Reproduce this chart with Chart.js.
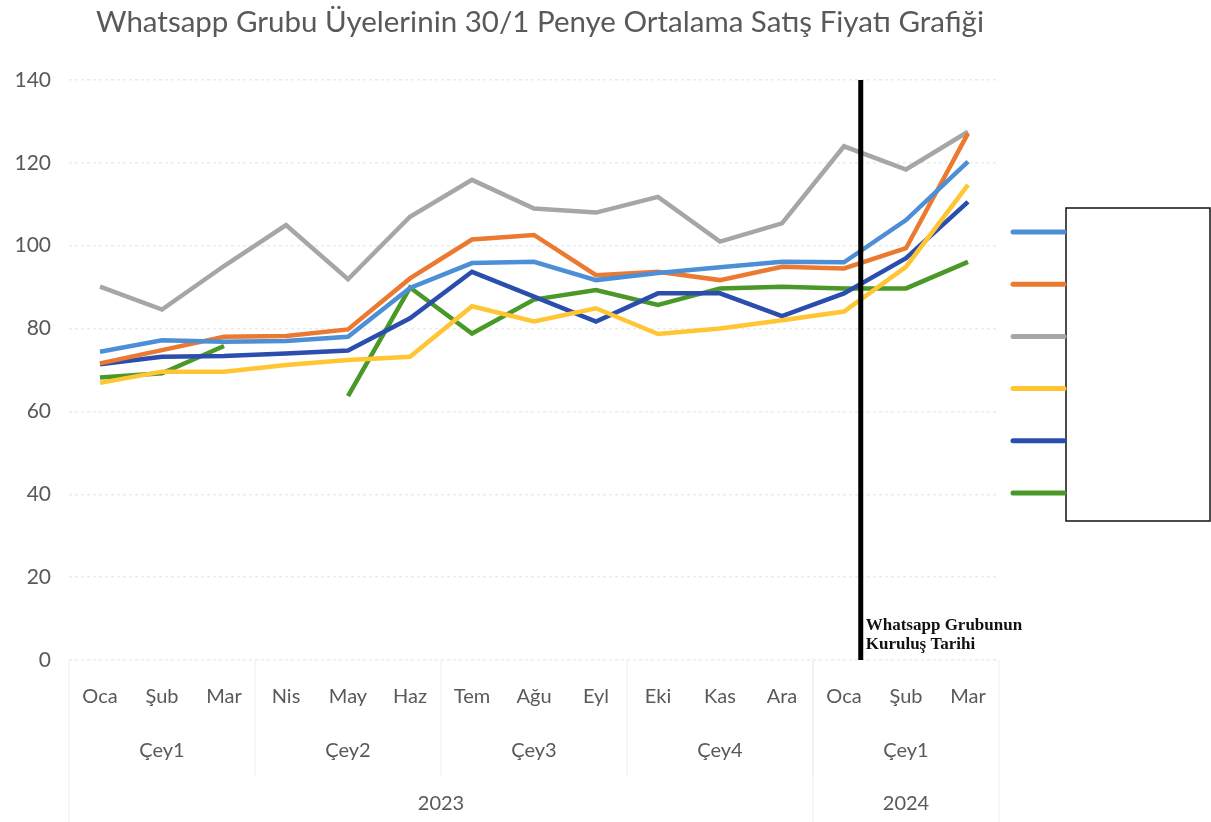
<!DOCTYPE html>
<html>
<head>
<meta charset="utf-8">
<script src="https://cdn.jsdelivr.net/npm/chart.js@4.4.1/dist/chart.umd.min.js"></script>
<style>
html,body{margin:0;padding:0;background:#fff;}
#wrap{width:1211px;height:822px;position:relative;}
</style>
</head>
<body>
<div id="wrap"><canvas id="c" width="1211" height="822"></canvas></div>
<script>
const titleText = "Whatsapp Grubu Üyelerinin 30/1 Penye Ortalama Satış Fiyatı Grafiği";
const months = ["Oca","Şub","Mar","Nis","May","Haz","Tem","Ağu","Eyl","Eki","Kas","Ara","Oca","Şub","Mar"];
const quarters = ["Çey1","Çey2","Çey3","Çey4","Çey1"];
const years = ["2023","2024"];
const monthsPerQuarter = 3;
const yearQuarterCounts = [4,1];
const yTicks = [0,20,40,60,80,100,120,140];

const seriesLightBlue = [74.4,77.2,76.8,77,78,89.8,95.8,96.1,91.7,93.4,94.8,96.1,96.0,106.2,120.3];
const seriesOrange    = [71.6,74.8,78,78.2,79.8,92.1,101.5,102.6,92.9,93.7,91.7,94.9,94.5,99.4,127.1];
const seriesGrey      = [90.1,84.6,95.1,105,91.9,107,115.9,109,108,111.8,101,105.4,124,118.4,127.5];
const seriesYellow    = [66.9,69.6,69.6,71.2,72.4,73.2,85.4,81.7,84.9,78.7,80,82,84.1,94.9,114.7];
const seriesDarkBlue  = [71.4,73.2,73.4,74,74.7,82.5,93.7,87.7,81.7,88.5,88.5,83,88.5,97,110.6];
const seriesGreen     = [68.2,69.2,75.8,null,63.7,89.9,78.8,87,89.3,85.7,89.7,90.1,89.7,89.7,96.1];

const foundingPosition = 12.27; // category index where the group was founded
const foundingLabel = ["Whatsapp Grubunun","Kuruluş Tarihi"];

const colors = ["#4C8FD6","#EB7A30","#A6A6A6","#FFC533","#2A4DAE","#4A9828"];
const seriesList = [seriesLightBlue,seriesOrange,seriesGrey,seriesYellow,seriesDarkBlue,seriesGreen];

const FONT = "Lato, 'Open Sans', sans-serif";
const TXT = "#595959";

const extraPlugin = {
  id: 'extra',
  afterDraw(chart) {
    const ctx = chart.ctx;
    const x = chart.scales.x, y = chart.scales.y;
    const ca = chart.chartArea;
    const step = x.getPixelForValue(1) - x.getPixelForValue(0);
    ctx.save();
    // title
    ctx.fillStyle = TXT;
    ctx.font = "29.5px " + FONT;
    ctx.textAlign = "center";
    ctx.textBaseline = "middle";
    ctx.fillText(titleText, (ca.left + ca.right) / 2 + 6, 22);

    // table lines under axis
    ctx.strokeStyle = "#ededed";
    ctx.lineWidth = 1;
    const rowQ = 751, rowY = 804;
    const bottom = chart.height;
    const leftEdge = x.getPixelForValue(0) - step / 2;
    const rightEdge = x.getPixelForValue(months.length - 1) + step / 2;
    function vline(px, y2) { ctx.beginPath(); ctx.moveTo(px, ca.bottom); ctx.lineTo(px, y2); ctx.stroke(); }
    vline(leftEdge, bottom);
    vline(rightEdge, bottom);
    // quarter labels
    ctx.fillStyle = TXT;
    ctx.font = "20px " + FONT;
    quarters.forEach((q, i) => {
      const a = i * monthsPerQuarter;
      const b = a + monthsPerQuarter - 1;
      const cx = (x.getPixelForValue(a) + x.getPixelForValue(b)) / 2;
      ctx.fillText(q, cx, rowQ);
      if (i > 0) vline(x.getPixelForValue(a) - step / 2, rowQ + 25);
    });
    // year labels
    let qStart = 0;
    yearQuarterCounts.forEach((n, i) => {
      const a = qStart * monthsPerQuarter;
      const b = (qStart + n) * monthsPerQuarter - 1;
      const cx = (x.getPixelForValue(a) + x.getPixelForValue(b)) / 2;
      ctx.fillText(years[i], cx, rowY);
      if (i > 0) vline(x.getPixelForValue(a) - step / 2, bottom);
      qStart += n;
    });

    // founding line
    const fx = x.getPixelForValue(Math.floor(foundingPosition)) + (foundingPosition - Math.floor(foundingPosition)) * step;
    ctx.strokeStyle = "#000";
    ctx.lineWidth = 5;
    ctx.beginPath();
    ctx.moveTo(fx, y.getPixelForValue(140));
    ctx.lineTo(fx, y.getPixelForValue(0));
    ctx.stroke();
    ctx.fillStyle = "#111";
    ctx.font = "bold 17px 'Liberation Serif', serif";
    ctx.textAlign = "left";
    ctx.textBaseline = "middle";
    ctx.fillText(foundingLabel[0], fx + 5, 626);
    ctx.fillText(foundingLabel[1], fx + 5, 645);

    // legend
    const boxL = ca.right + 67, boxT = 208, boxR = chart.width - 1, boxB = 521;
    ctx.strokeStyle = "#111";
    ctx.lineWidth = 1.5;
    ctx.strokeRect(boxL, boxT, boxR - boxL, boxB - boxT);
    ctx.lineCap = "round";
    ctx.lineWidth = 5;
    chart.data.datasets.forEach((ds, i) => {
      const ly = 232 + i * 52.2;
      ctx.strokeStyle = ds.borderColor;
      ctx.beginPath();
      ctx.moveTo(ca.right + 14, ly);
      ctx.lineTo(boxL - 2, ly);
      ctx.stroke();
    });
    ctx.restore();
  }
};

new Chart(document.getElementById('c'), {
  type: 'line',
  data: {
    labels: months,
    datasets: seriesList.map((d, i) => ({
      label: "",
      data: d,
      borderColor: colors[i],
      backgroundColor: colors[i],
      borderWidth: 4.5,
      pointRadius: 0,
      tension: 0,
      spanGaps: false
    }))
  },
  options: {
    responsive: false,
    animation: false,
    layout: { padding: { left: 0, right: 212, top: 80, bottom: 0 } },
    plugins: { legend: { display: false }, title: { display: false }, tooltip: { enabled: false } },
    scales: {
      x: {
        offset: true,
        grid: { display: false, drawTicks: false },
        border: { display: false },
        ticks: { color: TXT, font: { family: FONT, size: 20 }, padding: 25, autoSkip: false, maxRotation: 0 },
        afterFit(s) { s.height = 162; }
      },
      y: {
        min: 0, max: 140,
        afterBuildTicks(s) { s.ticks = yTicks.map(v => ({ value: v })); },
        grid: { color: "#ebebeb", drawTicks: false, lineWidth: 1.5 },
        border: { display: false, dash: [3, 3] },
        ticks: { color: TXT, font: { family: FONT, size: 21 }, padding: 18 },
        afterFit(s) { s.width = 69; }
      }
    }
  },
  plugins: [extraPlugin]
});
</script>
</body>
</html>
